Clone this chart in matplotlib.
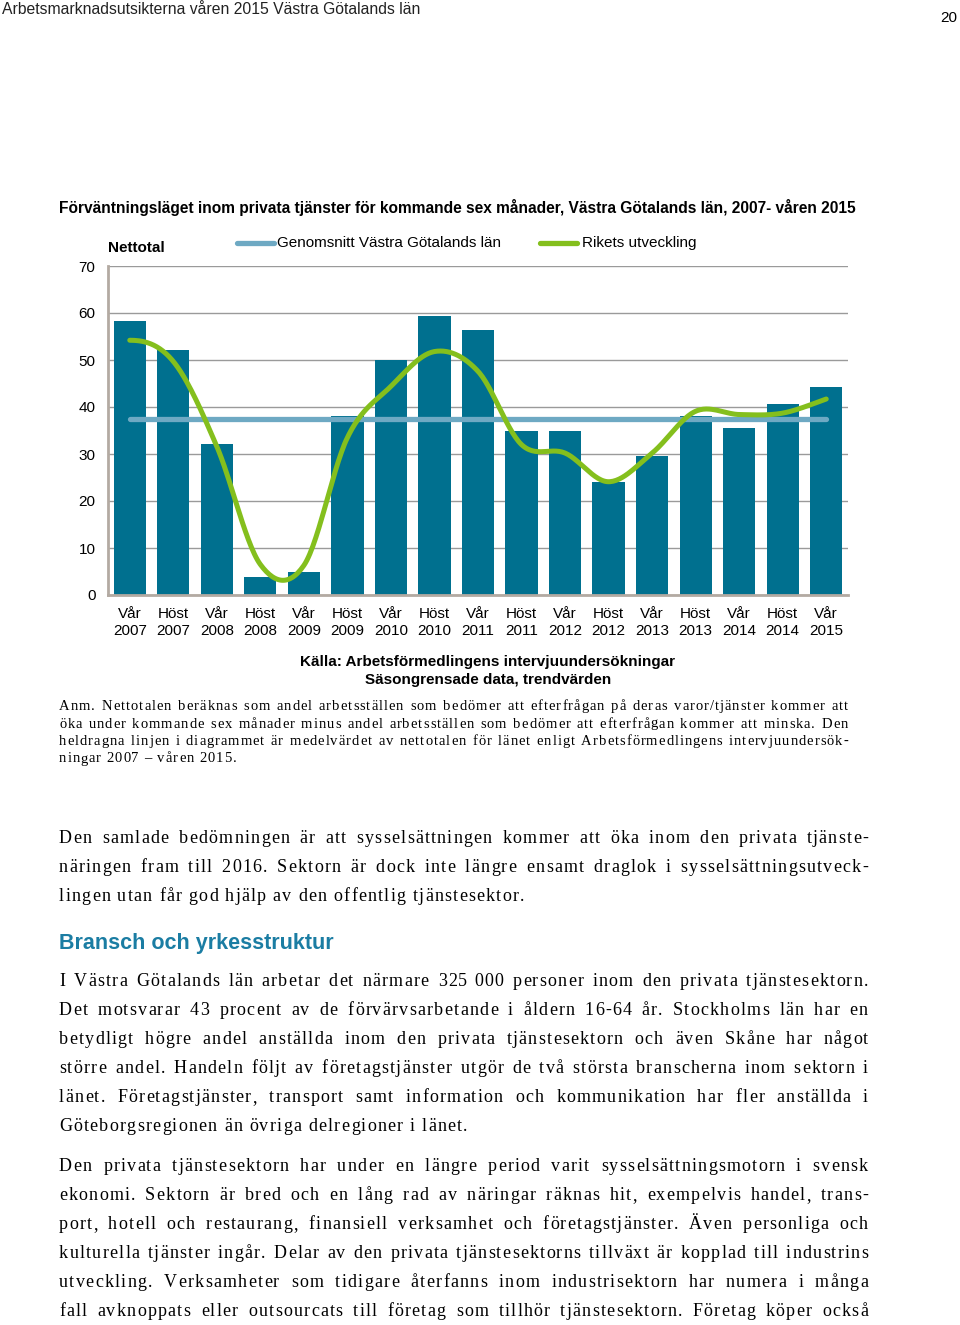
import matplotlib
matplotlib.use("Agg")
import matplotlib.pyplot as plt
from matplotlib.lines import Line2D
from matplotlib.font_manager import FontProperties
import numpy as np

# Data
periods = ["Vår\n2007", "Höst\n2007", "Vår\n2008", "Höst\n2008", "Vår\n2009", "Höst\n2009",
           "Vår\n2010", "Höst\n2010", "Vår\n2011", "Höst\n2011", "Vår\n2012", "Höst\n2012",
           "Vår\n2013", "Höst\n2013", "Vår\n2014", "Höst\n2014", "Vår\n2015"]
nettotal = [58.2, 52.1, 32.1, 3.8, 5.0, 38.1, 50.0, 59.4, 56.3, 34.9, 34.9, 24.1,
            29.5, 38.1, 35.5, 40.7, 44.2]
genomsnitt = 37.4
riket = [54.2, 49.7, 31.6, 6.5, 6.3, 33.5, 44.4, 51.8, 47.6, 32.0, 30.2, 24.1,
         30.2, 39.1, 38.4, 38.7, 41.7]
yticks = [0, 10, 20, 30, 40, 50, 60, 70]

W, H = 960, 1325
BAR = "#00708f"
AVG = "#6ea9c3"
GREEN = "#84bf1d"
SANS = ["Liberation Sans", "DejaVu Sans"]
SERIF = ["Liberation Serif", "DejaVu Serif"]


def smooth(y, steps=30):
    # smoothed line like Excel: cubic bezier through each point, flat start
    y = np.asarray(y, float)
    x = np.arange(len(y), dtype=float)
    pts = np.column_stack([x, y])
    xs, ys = [], []
    t = np.linspace(0, 1, steps)
    n = len(y)
    for i in range(n - 1):
        p0, p3 = pts[i], pts[i + 1]
        if i == 0:
            p1 = p0 + np.array([1 / 3, 0])
        else:
            p1 = p0 + (pts[i + 1] - pts[i - 1]) / 6
        p2 = p3 - (pts[min(i + 2, n - 1)] - pts[i]) / 6
        b = (((1 - t) ** 3)[:, None] * p0 + (3 * (1 - t) ** 2 * t)[:, None] * p1
             + (3 * (1 - t) * t ** 2)[:, None] * p2 + (t ** 3)[:, None] * p3)
        xs.extend(b[:, 0]); ys.extend(b[:, 1])
    return xs, ys


fig = plt.figure(figsize=(W / 100, H / 100), dpi=100)
renderer = fig.canvas.get_renderer()


def ftext(x, y, s, **kw):
    return fig.text(x / W, 1 - y / H, s, **kw)


# chart
ax = fig.add_axes([108 / W, 1 - 595 / H, 740 / W, (595 - 266) / H])
x = np.arange(len(periods))
ax.bar(x, nettotal, width=0.74, color=BAR, zorder=2)
ax.plot(x, [genomsnitt] * len(x), color=AVG, lw=3.8, solid_capstyle="round", zorder=3)
sx, sy = smooth(riket)
ax.plot(sx, sy, color=GREEN, lw=3.6, solid_capstyle="round", zorder=4)
ax.set_xlim(-0.5, len(x) - 0.5)
ax.set_ylim(0, 70)
ax.set_yticks(yticks)
ax.set_yticklabels([str(v) for v in yticks], fontsize=11, family=SANS)
ax.set_xticks(x)
ax.set_xticklabels(periods, fontsize=11, family=SANS, linespacing=1.25)
ax.tick_params(length=0, pad=9)
ax.tick_params(axis="x", pad=9)
ax.grid(axis="y", color="#9a9a9a", lw=1, zorder=0)
for s in ["top", "right"]:
    ax.spines[s].set_visible(False)
for s in ["left", "bottom"]:
    ax.spines[s].set_color("#b3aaa2")
    ax.spines[s].set_linewidth(2)

# header
ftext(2, 9, "Arbetsmarknadsutsikterna våren 2015 Västra Götalands län", fontsize=11.3,
      family=SANS, va="center", color="#222222")
ftext(957, 18, "20", fontsize=11, family=SANS, va="center", ha="right")

ftext(59, 208, "Förväntningsläget inom privata tjänster för kommande sex månader, "
      "Västra Götalands län, 2007- våren 2015", fontsize=11.2, family=SANS,
      weight="bold", va="center")
ftext(108, 248, "Nettotal", fontsize=11, family=SANS, weight="bold", va="center")

fig.add_artist(Line2D([237 / W, 274 / W], [1 - 243 / H] * 2, color=AVG, lw=3.8,
                      solid_capstyle="round"))
ftext(277, 243, "Genomsnitt Västra Götalands län", fontsize=11, family=SANS, va="center")
fig.add_artist(Line2D([540 / W, 577 / W], [1 - 243 / H] * 2, color=GREEN, lw=3.8,
                      solid_capstyle="round"))
ftext(582, 243, "Rikets utveckling", fontsize=11, family=SANS, va="center")

ftext(488, 662, "Källa: Arbetsförmedlingens intervjuundersökningar", fontsize=11,
      family=SANS, weight="bold", va="center", ha="center")
ftext(488, 680, "Säsongrensade data, trendvärden", fontsize=11,
      family=SANS, weight="bold", va="center", ha="center")

# body text, letter-spaced and justified like the page
_cache = {}


def adv(c, size):
    key = (c, size)
    if key not in _cache:
        prop = FontProperties(family=SERIF, size=size)
        w0 = renderer.get_text_width_height_descent("xx", prop, ismath=False)[0]
        w1 = renderer.get_text_width_height_descent("x" + c + "x", prop, ismath=False)[0]
        _cache[key] = w1 - w0
    return _cache[key]


def put_line(s, x0, x1, base, size, track, justify=True):
    widths = [adv(c, size) + track for c in s]
    nat = sum(widths) - track
    nsp = s.count(" ")
    extra = (x1 - x0 - nat) / nsp if (justify and nsp) else 0
    xp = x0
    for c, w in zip(s, widths):
        if c == " ":
            xp += w + extra
            continue
        if c == "\u00a0":
            xp += w
            continue
        ftext(xp, base, c, fontsize=size, family=SERIF, va="baseline", ha="left")
        xp += w


def paragraph(lines, x0, x1, b0, step, size, track, last_justified=False):
    for i, ln in enumerate(lines):
        put_line(ln, x0, x1, b0 + i * step, size, track,
                 justify=last_justified or i < len(lines) - 1)


anm = ["Anm. Nettotalen beräknas som andel arbetsställen som bedömer att efterfrågan på deras varor/tjänster kommer att",
       "öka under kommande sex månader minus andel arbetsställen som bedömer att efterfrågan kommer att minska. Den",
       "heldragna linjen i diagrammet är medelvärdet av nettotalen för länet enligt Arbetsförmedlingens intervjuundersök-",
       "ningar 2007 – våren 2015."]
paragraph(anm, 59, 848, 710, 17.5, 10.5, 1.0)

p1 = ["Den samlade bedömningen är att sysselsättningen kommer att öka inom den privata tjänste-",
      "näringen fram till 2016. Sektorn är dock inte längre ensamt draglok i sysselsättningsutveck-",
      "lingen utan får god hjälp av den offentlig tjänstesektor."]
paragraph(p1, 59, 868, 843, 29, 13, 1.25)

ftext(59, 944, "Bransch och yrkesstruktur", fontsize=15.5, family=SANS, weight="bold",
      color="#1b7da3", va="center")

p2 = ["I Västra Götalands län arbetar det närmare 325\u00a0000 personer inom den privata tjänstesektorn.",
      "Det motsvarar 43 procent av de förvärvsarbetande i åldern 16-64 år. Stockholms län har en",
      "betydligt högre andel anställda inom den privata tjänstesektorn och även Skåne har något",
      "större andel. Handeln följt av företagstjänster utgör de två största branscherna inom sektorn i",
      "länet. Företagstjänster, transport samt information och kommunikation har fler anställda i",
      "Göteborgsregionen än övriga delregioner i länet."]
paragraph(p2, 59, 868, 986, 29, 13, 1.25)

p3 = ["Den privata tjänstesektorn har under en längre period varit sysselsättningsmotorn i svensk",
      "ekonomi. Sektorn är bred och en lång rad av näringar räknas hit, exempelvis handel, trans-",
      "port, hotell och restaurang, finansiell verksamhet och företagstjänster. Även personliga och",
      "kulturella tjänster ingår. Delar av den privata tjänstesektorns tillväxt är kopplad till industrins",
      "utveckling. Verksamheter som tidigare återfanns inom industrisektorn har numera i många",
      "fall avknoppats eller outsourcats till företag som tillhör tjänstesektorn. Företag köper också"]
paragraph(p3, 59, 868, 1171, 29, 13, 1.25, last_justified=True)

fig.savefig("out.png", dpi=100)
